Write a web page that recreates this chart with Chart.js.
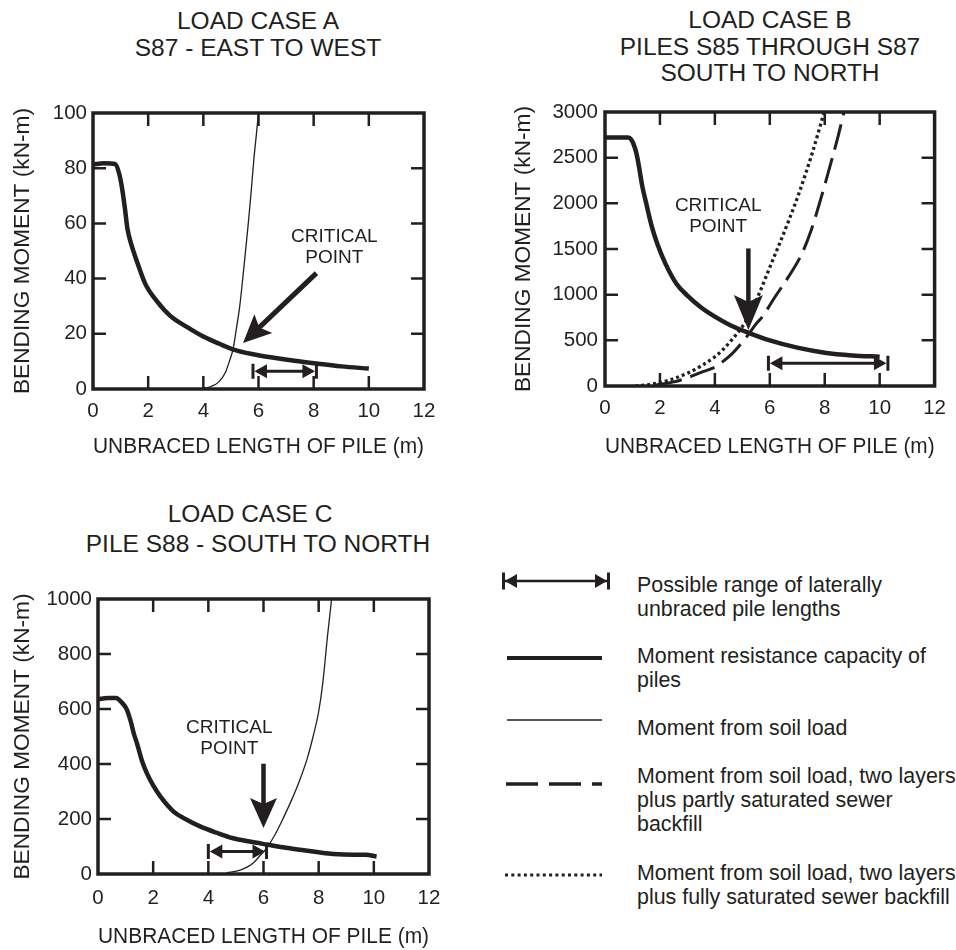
<!DOCTYPE html>
<html>
<head>
<meta charset="utf-8">
<script src="https://cdn.jsdelivr.net/npm/chart.js@4.4.1/dist/chart.umd.min.js"></script>
<style>
  body { margin: 0; background: #fff; }
  #page { position: relative; width: 956px; height: 950px; overflow: hidden;
          font-family: "Liberation Sans", Arial, sans-serif; color: #231f20; }
  canvas { position: absolute; }
  .title { position: absolute; text-align: center; font-size: 24.5px; white-space: nowrap; }
  .leg { position: absolute; left: 637px; font-size: 21.4px; line-height: 24px; white-space: nowrap; }
  svg { position: absolute; left: 490px; top: 560px; }
</style>
</head>
<body>
<div id="page">
  <div class="title" style="left:58px;width:400px;top:7px;line-height:27px">LOAD CASE A<br>S87 - EAST TO WEST</div>
  <div class="title" style="left:570px;width:400px;top:7px;line-height:26.5px">LOAD CASE B<br>PILES S85 THROUGH S87<br>SOUTH TO NORTH</div>
  <div class="title" style="left:50px;width:400px;top:499px;line-height:30px">LOAD CASE C</div>
  <div class="title" style="left:58px;width:400px;top:529px;line-height:30px">PILE S88 - SOUTH TO NORTH</div>

  <canvas id="chartA" width="470" height="400" style="left:0;top:80px"></canvas>
  <canvas id="chartB" width="478" height="400" style="left:478px;top:80px"></canvas>
  <canvas id="chartC" width="470" height="380" style="left:0;top:570px"></canvas>

  <svg width="140" height="340" viewBox="0 0 140 340">
    <g stroke="#231f20" fill="#231f20">
      <line x1="14" y1="21" x2="118" y2="21" stroke-width="2.5"/>
      <line x1="13.5" y1="12.5" x2="13.5" y2="29.5" stroke-width="3"/>
      <line x1="118.5" y1="12.5" x2="118.5" y2="29.5" stroke-width="3"/>
      <polygon points="15,21 27,14 27,28" stroke="none"/>
      <polygon points="117,21 105,14 105,28" stroke="none"/>
      <line x1="17" y1="98" x2="112" y2="98" stroke-width="4"/>
      <line x1="17" y1="160" x2="112" y2="160" stroke-width="1.5"/>
      <line x1="16" y1="224" x2="112" y2="224" stroke-width="3.5" stroke-dasharray="32 11"/>
      <line x1="15" y1="315" x2="112" y2="315" stroke-width="3" stroke-dasharray="3 3.3"/>
    </g>
  </svg>

  <div class="leg" style="top:573px">Possible range of laterally<br>unbraced pile lengths</div>
  <div class="leg" style="top:644px">Moment resistance capacity of<br>piles</div>
  <div class="leg" style="top:716px">Moment from soil load</div>
  <div class="leg" style="top:764px">Moment from soil load, two layers<br>plus partly saturated sewer<br>backfill</div>
  <div class="leg" style="top:861px">Moment from soil load, two layers<br>plus fully saturated sewer backfill</div>
</div>

<script>
// values, [length (m), moment (kN-m)]
const xMax = 12;
const xStep = 2;

// load case A
const yMaxA = 100, yStepA = 20;
const capacityA = [[0, 81.3], [0.4, 81.8], [0.8, 81.5], [0.95, 78], [1.05, 73], [1.15, 66], [1.25, 58],
  [1.4, 52], [1.6, 46], [1.9, 38], [2.3, 32], [2.8, 26.5], [3.4, 22.5], [4, 19], [4.6, 16.3],
  [5.1, 14.3], [5.8, 12.6], [6.5, 11.4], [7.3, 10.2], [8.1, 9.2], [9, 8.2], [10, 7.4]];
const soilA = [[4.0, 0.2], [4.3, 1], [4.55, 2.5], [4.8, 6], [4.96, 10.5], [5.08, 14.5], [5.2, 22],
  [5.32, 30], [5.47, 44], [5.62, 59], [5.73, 71], [5.83, 83], [5.92, 92], [6.0, 100]];
const rangeA = [5.8, 8.1, 6.4];            // from, to, at moment
const criticalA = [8.1, 42, 5.44, 16.7];   // tail x, y, tip x, y
const labelA = [8.75, 51.5];

// load case B
const yMaxB = 3000, yStepB = 500;
const capacityB = [[0, 2720], [0.5, 2720], [0.85, 2720], [0.95, 2700], [1.05, 2640], [1.15, 2540],
  [1.25, 2380], [1.35, 2200], [1.5, 2000], [1.7, 1750], [1.9, 1560], [2.2, 1340], [2.6, 1120],
  [3.0, 990], [3.5, 860], [4.0, 760], [4.6, 660], [5.25, 580], [6.0, 500], [7.0, 420],
  [8.0, 365], [9.0, 335], [10.0, 320]];
const fullySatB = [[1.1, 0], [1.6, 15], [2.35, 66], [3.0, 140], [3.56, 230], [4.0, 320], [4.28, 394],
  [4.6, 500], [5.0, 650], [5.3, 800], [5.61, 1010], [6.0, 1300], [6.33, 1540], [6.7, 1820],
  [7.05, 2100], [7.54, 2545], [7.98, 3000]];
const partlySatB = [[1.87, 10], [2.5, 45], [2.96, 85], [3.5, 150], [3.92, 195], [4.3, 270], [4.64, 357],
  [5.0, 480], [5.25, 576], [5.5, 680], [5.73, 760], [6.2, 980], [6.69, 1200], [7.17, 1450],
  [7.5, 1700], [7.77, 1960], [8.0, 2200], [8.25, 2470], [8.5, 2750], [8.7, 3000]];
const rangeB = [5.95, 10.3, 250];
const criticalB = [5.22, 1506, 5.22, 612];
const labelB = [4.12, 1856];

// load case C
const yMaxC = 1000, yStepC = 200;
const capacityC = [[0, 636], [0.35, 640], [0.65, 640], [0.85, 625], [1.05, 597], [1.2, 550], [1.3, 510],
  [1.41, 476], [1.6, 410], [1.77, 367], [2.0, 322], [2.26, 282], [2.74, 227], [3.2, 198],
  [3.7, 173], [4.3, 150], [4.9, 130], [5.5, 118], [6.12, 107], [6.7, 97], [7.32, 88],
  [8.0, 79], [8.53, 73], [9.25, 70], [9.7, 70], [10.1, 64]];
const soilC = [[4.67, 5], [5.09, 12], [5.4, 25], [5.63, 40], [5.9, 70], [6.12, 95], [6.4, 140],
  [6.72, 204], [7.0, 265], [7.32, 343], [7.6, 425], [7.8, 501], [8.0, 590], [8.15, 695],
  [8.32, 865], [8.47, 1000]];
const rangeC = [4.0, 6.11, 82];
const criticalC = [6.0, 401, 6.0, 167];
const labelC = [4.76, 495];

const INK = '#231f20';
const FONT = '"Liberation Sans", Arial, sans-serif';
Chart.defaults.font.family = FONT;
Chart.defaults.color = INK;

const pts = arr => arr.map(([x, y]) => ({ x, y }));

// double headed range arrow with end bars
function rangeArrow(ctx, x1, x2, y) {
  ctx.lineWidth = 3;
  ctx.beginPath();
  ctx.moveTo(x1 + 4, y); ctx.lineTo(x2 - 4, y);
  ctx.moveTo(x1, y - 7.5); ctx.lineTo(x1, y + 7.5);
  ctx.moveTo(x2, y - 7.5); ctx.lineTo(x2, y + 7.5);
  ctx.stroke();
  ctx.beginPath();
  ctx.moveTo(x1 + 1.5, y); ctx.lineTo(x1 + 14, y - 7); ctx.lineTo(x1 + 14, y + 7); ctx.closePath();
  ctx.moveTo(x2 - 1.5, y); ctx.lineTo(x2 - 14, y - 7); ctx.lineTo(x2 - 14, y + 7); ctx.closePath();
  ctx.fill();
}

// fat pointer arrow
function bigArrow(ctx, fx, fy, tx, ty, shaft, headLen, headW) {
  const ang = Math.atan2(ty - fy, tx - fx);
  const len = Math.hypot(tx - fx, ty - fy);
  ctx.save();
  ctx.translate(tx, ty);
  ctx.rotate(ang);
  ctx.lineWidth = shaft;
  ctx.beginPath(); ctx.moveTo(-len, 0); ctx.lineTo(-headLen * 0.7, 0); ctx.stroke();
  ctx.beginPath();
  ctx.moveTo(0, 0);
  ctx.lineTo(-headLen, -headW / 2);
  ctx.lineTo(-headLen * 0.8, 0);
  ctx.lineTo(-headLen, headW / 2);
  ctx.closePath();
  ctx.fill();
  ctx.restore();
}

// box with inward ticks, range arrow and the critical point callout
const framePlugin = {
  id: 'frame',
  afterDatasetsDraw(chart, args, opt) {
    const { ctx, chartArea: a, scales: { x, y } } = chart;
    ctx.save();
    ctx.strokeStyle = INK;
    ctx.fillStyle = INK;

    ctx.lineWidth = 2.5;
    ctx.beginPath();
    x.ticks.forEach(t => {
      if (t.value <= x.min || t.value >= x.max) return;
      const px = x.getPixelForValue(t.value);
      ctx.moveTo(px, a.bottom); ctx.lineTo(px, a.bottom - 13);
      ctx.moveTo(px, a.top); ctx.lineTo(px, a.top + 13);
    });
    y.ticks.forEach(t => {
      if (t.value <= y.min || t.value >= y.max) return;
      const py = y.getPixelForValue(t.value);
      ctx.moveTo(a.left, py); ctx.lineTo(a.left + 13, py);
      ctx.moveTo(a.right, py); ctx.lineTo(a.right - 13, py);
    });
    ctx.stroke();

    ctx.lineWidth = 3.5;
    ctx.strokeRect(a.left, a.top, a.right - a.left, a.bottom - a.top);

    const r = opt.range;
    rangeArrow(ctx, x.getPixelForValue(r[0]), x.getPixelForValue(r[1]), y.getPixelForValue(r[2]));

    const c = opt.critical;
    bigArrow(ctx, x.getPixelForValue(c[0]), y.getPixelForValue(c[1]),
      x.getPixelForValue(c[2]), y.getPixelForValue(c[3]), opt.shaft, opt.headLen, opt.headW);

    const l = opt.label;
    const lx = x.getPixelForValue(l[0]), ly = y.getPixelForValue(l[1]);
    ctx.font = '19px ' + FONT;
    ctx.textAlign = 'center';
    ctx.textBaseline = 'middle';
    ctx.fillText('CRITICAL', lx, ly - 10.5);
    ctx.fillText('POINT', lx, ly + 10.5);
    ctx.restore();
  }
};

function line(data, width, dash) {
  return {
    data: pts(data),
    borderColor: INK,
    borderWidth: width,
    borderDash: dash || [],
    borderCapStyle: 'butt',
    borderJoinStyle: 'round',
    pointRadius: 0,
    fill: false,
    cubicInterpolationMode: 'monotone'
  };
}

function makeChart(id, datasets, yMax, yStep, lay, frame) {
  return new Chart(document.getElementById(id), {
    type: 'line',
    data: { datasets },
    plugins: [framePlugin],
    options: {
      responsive: false,
      animation: false,
      events: [],
      layout: { padding: lay.padding },
      plugins: { legend: { display: false }, tooltip: { enabled: false }, frame },
      scales: {
        x: {
          type: 'linear', min: 0, max: xMax,
          grid: { display: false, drawTicks: false },
          border: { display: false },
          ticks: { stepSize: xStep, font: { size: 20.5 }, padding: lay.xPad, maxRotation: 0, autoSkip: false,
                   callback: v => String(v) },
          title: { display: true, text: 'UNBRACED LENGTH OF PILE (m)', font: { size: 22.7 }, padding: { top: 0, bottom: 0 } },
          afterFit: s => { s.height = lay.xHeight; }
        },
        y: {
          type: 'linear', min: 0, max: yMax,
          grid: { display: false, drawTicks: false },
          border: { display: false },
          ticks: { stepSize: yStep, font: { size: 20.5 }, padding: lay.yPad, autoSkip: false,
                   callback: v => String(v) },
          title: { display: true, text: 'BENDING MOMENT (kN-m)', font: { size: 22.7 }, padding: { top: lay.yTitle, bottom: 0 } },
          afterFit: s => { s.width = lay.yWidth; }
        }
      }
    }
  });
}

makeChart('chartA',
  [line(capacityA, 4.5), line(soilA, 1.3)],
  yMaxA, yStepA,
  { padding: { left: 0, top: 33, right: 46, bottom: 20 }, xHeight: 71, yWidth: 93, xPad: 10, yPad: 6, yTitle: 9 },
  { range: rangeA, critical: criticalA, label: labelA, shaft: 5, headLen: 28, headW: 26 });

makeChart('chartB',
  [line(capacityB, 4.5), line(fullySatB, 3.3, [3, 3]), line(partlySatB, 3, [26, 9])],
  yMaxB, yStepB,
  { padding: { left: 0, top: 32, right: 19, bottom: 20 }, xHeight: 74, yWidth: 127, xPad: 10, yPad: 7, yTitle: 32.5 },
  { range: rangeB, critical: criticalB, label: labelB, shaft: 4.5, headLen: 35, headW: 29 });

makeChart('chartC',
  [line(capacityC, 4.5), line(soilC, 1.3)],
  yMaxC, yStepC,
  { padding: { left: 0, top: 29, right: 41, bottom: 0 }, xHeight: 76, yWidth: 98, xPad: 12, yPad: 6, yTitle: 9 },
  { range: rangeC, critical: criticalC, label: labelC, shaft: 4.5, headLen: 30, headW: 27 });
</script>
</body>
</html>
